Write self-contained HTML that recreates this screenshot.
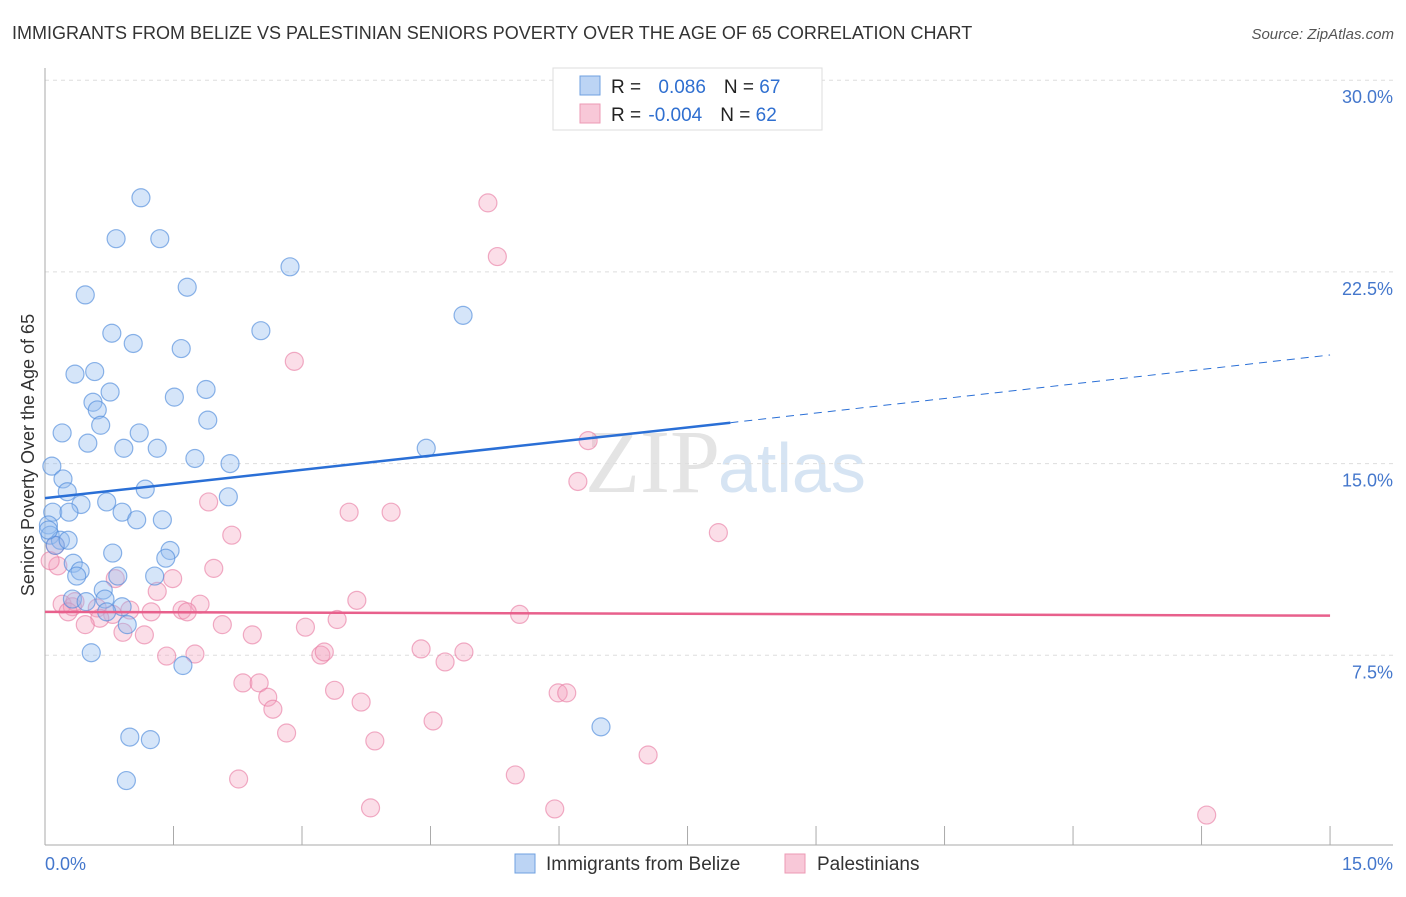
<!DOCTYPE html>
<html><head><meta charset="utf-8"><style>
body{margin:0;background:#fff;font-family:"Liberation Sans",sans-serif}
</style></head><body>
<svg width="1406" height="892" xmlns="http://www.w3.org/2000/svg" font-family="Liberation Sans, sans-serif">
<text x="12" y="39" font-size="18" fill="#333">IMMIGRANTS FROM BELIZE VS PALESTINIAN SENIORS POVERTY OVER THE AGE OF 65 CORRELATION CHART</text>
<text x="1394" y="39" font-size="15" fill="#555" font-style="italic" text-anchor="end">Source: ZipAtlas.com</text>
<text x="720" y="492" font-size="90" fill="#e4e4e4" font-family="Liberation Serif, serif" text-anchor="end">ZIP</text>
<text x="718" y="492" font-size="70" fill="#d6e4f3">atlas</text>
<g id="grid"></g>
<g id="axes"></g>
<g id="pts"></g>
<g id="trend"></g>
<text transform="translate(34,455) rotate(-90)" font-size="18" fill="#333" text-anchor="middle">Seniors Poverty Over the Age of 65</text>
<g>
<rect x="553" y="68" width="269" height="62" fill="#fff" stroke="#ddd"/>
<rect x="580" y="76" width="20" height="19" fill="#bcd4f4" stroke="#6fa0e0"/>
<rect x="580" y="104" width="20" height="19" fill="#f8c8d8" stroke="#ec9ab4"/>
<text x="611" y="93" font-size="19" fill="#222">R = <tspan fill="#2f6fd0" dx="12">0.086</tspan><tspan fill="#222" dx="18">N = </tspan><tspan fill="#2f6fd0">67</tspan></text>
<text x="611" y="121" font-size="19" fill="#222">R = <tspan fill="#2f6fd0" dx="2">-0.004</tspan><tspan fill="#222" dx="18">N = </tspan><tspan fill="#2f6fd0">62</tspan></text>
</g>
<g>
<rect x="515" y="854" width="20" height="19" fill="#bcd4f4" stroke="#6fa0e0"/>
<text x="546" y="870" font-size="19" fill="#333">Immigrants from Belize</text>
<rect x="785" y="854" width="20" height="19" fill="#f8c8d8" stroke="#ec9ab4"/>
<text x="817" y="870" font-size="19" fill="#333">Palestinians</text>
</g>
</svg>
<script>
const yTicks=[7.5,15,22.5,30];
const yTickLabels=["7.5%","15.0%","22.5%","30.0%"];
const xTicks=[0,1.5,3,4.5,6,7.5,9,10.5,12,13.5,15];
const blueX=[1.12,0.83,1.34,2.86,0.47,1.66,4.88,0.78,2.52,1.03,1.59,0.35,0.58,0.76,1.88,1.51,0.56,0.61,0.65,1.90,0.20,1.10,0.50,0.92,1.31,4.45,1.75,2.16,0.08,0.21,0.26,1.17,2.14,0.42,0.72,0.09,0.28,0.90,1.07,1.37,0.04,0.06,0.18,0.12,0.27,0.79,1.46,1.41,0.33,0.41,0.37,0.85,1.28,0.68,0.32,0.70,0.48,0.90,0.72,0.96,0.54,1.61,6.49,0.99,1.23,0.95,0.04];
const blueY=[25.4,23.8,23.8,22.7,21.6,21.9,20.8,20.1,20.2,19.7,19.5,18.5,18.6,17.8,17.9,17.6,17.4,17.1,16.5,16.7,16.2,16.2,15.8,15.6,15.6,15.6,15.2,15.0,14.9,14.4,13.9,14.0,13.7,13.4,13.5,13.1,13.1,13.1,12.8,12.8,12.6,12.2,12.0,11.8,12.0,11.5,11.6,11.3,11.1,10.8,10.6,10.6,10.6,10.05,9.7,9.7,9.6,9.4,9.2,8.7,7.6,7.1,4.7,4.3,4.2,2.6,12.4];
const pinkX=[5.17,5.28,2.91,6.34,6.22,1.91,3.55,4.04,7.86,2.18,0.12,0.15,1.97,0.82,1.49,1.31,0.20,0.32,0.61,3.64,1.81,1.60,1.66,0.99,1.24,5.54,0.79,0.64,3.41,0.47,2.07,3.04,0.91,1.16,2.42,1.75,1.42,3.22,3.26,4.39,4.89,4.67,2.31,2.50,2.60,3.38,5.99,6.09,2.66,3.69,4.53,2.82,3.85,7.04,5.49,2.26,3.80,5.95,13.56,0.35,0.27,0.06];
const pinkY=[25.2,23.1,19.0,15.9,14.3,13.5,13.1,13.1,12.3,12.2,11.8,11.0,10.9,10.5,10.5,10.0,9.5,9.4,9.35,9.65,9.5,9.27,9.2,9.27,9.2,9.1,9.1,8.95,8.9,8.7,8.7,8.6,8.4,8.3,8.3,7.55,7.47,7.51,7.63,7.75,7.63,7.24,6.42,6.42,5.86,6.13,6.03,6.03,5.39,5.67,4.93,4.46,4.15,3.60,2.82,2.66,1.53,1.49,1.25,9.6,9.2,11.2];
const blueTrend=[[0,13.65],[8.0,16.6],[15,19.25]];
const pinkTrend=[[0,9.2],[15,9.05]];
const X=v=>45+v*85.67, Y=v=>847-v*25.56;
const ns="http://www.w3.org/2000/svg";
function mk(t,a,p){const e=document.createElementNS(ns,t);for(const k in a)e.setAttribute(k,a[k]);p.appendChild(e);return e;}
const grid=document.getElementById('grid'),axes=document.getElementById('axes'),pts=document.getElementById('pts'),tr=document.getElementById('trend');
yTicks.forEach((v,i)=>{const l=mk('line',{x1:45,x2:1393,y1:Y(v),y2:Y(v),stroke:'#ddd','stroke-dasharray':'4,4'},grid);

const t=mk('text',{x:1393,y:Y(v)+23,'font-size':18,fill:'#4477cc','text-anchor':'end'},axes);t.textContent=yTickLabels[i];
});
let ax=mk('line',{x1:45,x2:45,y1:68,y2:845,stroke:'#aaa'},axes);
ax=mk('line',{x1:45,x2:1393,y1:845,y2:845,stroke:'#aaa'},axes);
xTicks.forEach(v=>{const l=mk('line',{x1:X(v),x2:X(v),y1:826,y2:845,stroke:'#aaa'},axes);});
let t=mk('text',{x:45,y:870,'font-size':18,fill:'#4477cc'},axes);t.textContent='0.0%';
t=mk('text',{x:1393,y:870,'font-size':18,fill:'#4477cc','text-anchor':'end'},axes);t.textContent='15.0%';
pinkX.forEach((v,i)=>{const c=mk('circle',{cx:X(v),cy:Y(pinkY[i]),r:9,fill:'rgba(244,160,190,0.35)',stroke:'rgba(232,120,160,0.6)','stroke-width':1.2},pts);
});
blueX.forEach((v,i)=>{const c=mk('circle',{cx:X(v),cy:Y(blueY[i]),r:9,fill:'rgba(150,190,240,0.4)',stroke:'rgba(80,140,220,0.65)','stroke-width':1.2},pts);
});
let l=mk('line',{x1:X(blueTrend[0][0]),y1:Y(blueTrend[0][1]),x2:X(blueTrend[1][0]),y2:Y(blueTrend[1][1]),stroke:'#2a6fd6','stroke-width':2.5},tr);

l=mk('line',{x1:X(blueTrend[1][0]),y1:Y(blueTrend[1][1]),x2:X(blueTrend[2][0]),y2:Y(blueTrend[2][1]),stroke:'#2a6fd6','stroke-width':1,'stroke-dasharray':'8,6'},tr);

l=mk('line',{x1:X(pinkTrend[0][0]),y1:Y(pinkTrend[0][1]),x2:X(pinkTrend[1][0]),y2:Y(pinkTrend[1][1]),stroke:'#e8608c','stroke-width':2.5},tr);

</script>
</body></html>
